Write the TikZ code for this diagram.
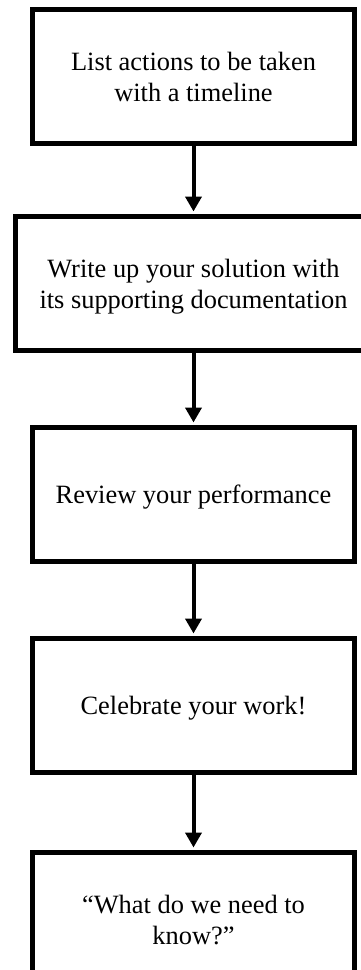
\documentclass[tikz,border=0pt]{standalone}
\usepackage{fontspec}
\setmainfont{Liberation Serif}
\usetikzlibrary{positioning}
\usetikzlibrary{arrows.meta}

\begin{document}
\begin{tikzpicture}[
		x=1pt,y=1pt,
		>={Triangle[length=15pt,width=16pt]},
		node distance=72pt,
		every node/.append style={
			draw=black,
			line width=5pt,
			minimum height=134pt,
			inner sep=0pt,
			text depth=0pt,
			font=\fontsize{26.4}{31}\selectfont,
			align=center,
		},
		box/.style={minimum width=322pt},
		widebox/.style={minimum width=357pt},
		link/.style={->,line width=4pt,shorten >=2.5pt},
	]
	\useasboundingbox (0,0) rectangle (361,-970);
	% the steps, top to bottom
	\node[box] (actions) at (193.5,-76.5) {List actions to be taken\\with a timeline};
	\node[widebox] (writeup) [below=68pt of actions] {Write up your solution with\\its supporting documentation};
	\node[box] (review) [below=of writeup] {Review your performance};
	\node[box] (celebrate) [below=of review] {Celebrate your work!};
	\node[box] (needtoknow) [below=75pt of celebrate] {“What do we need to\\know?”};
	% draw the arrows
	\draw[link] (actions) -- (writeup);
	\draw[link] (writeup) -- (review);
	\draw[link] (review) -- (celebrate);
	\draw[link] (celebrate) -- (needtoknow);
\end{tikzpicture}
\end{document}
